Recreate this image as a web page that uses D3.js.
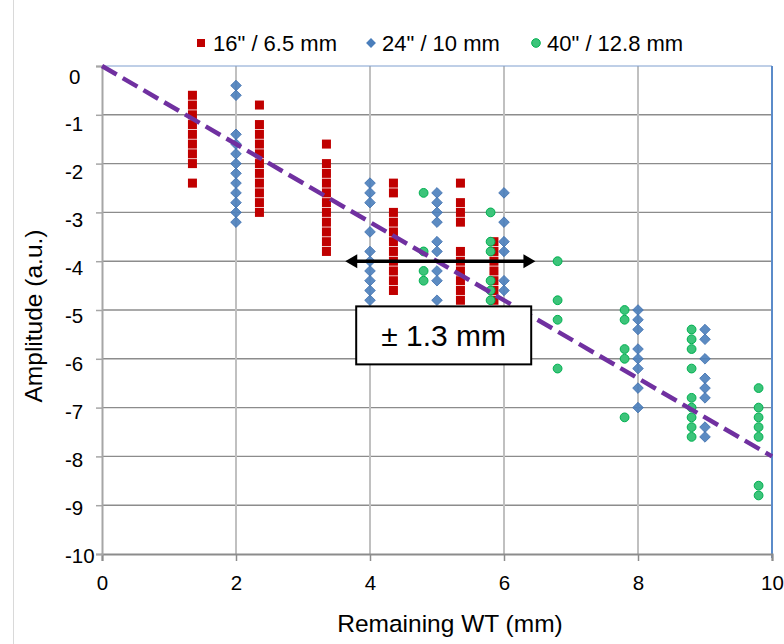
<!DOCTYPE html>
<html>
<head>
<meta charset="utf-8">
<script src="https://cdn.jsdelivr.net/npm/d3@7"></script>
<style>
  html, body { margin: 0; padding: 0; background: #fff; }
  svg { display: block; font-family: "Liberation Sans", Arial, sans-serif; }
</style>
</head>
<body>
<svg id="chart" width="784" height="644"></svg>
<script>
// Remaining wall thickness vs. amplitude, three pipe diameters
const xTicks = [0, 2, 4, 6, 8, 10];
const yTicks = [0, -1, -2, -3, -4, -5, -6, -7, -8, -9, -10];

const seriesNames = ['16" / 6.5 mm', '24" / 10 mm', '40" / 12.8 mm'];

// 16" / 6.5 mm (squares): column positions and amplitudes in each column
const redX = [1.35, 2.35, 3.35, 4.35, 5.35, 5.85];
const redY = [
  [-0.6, -0.8, -1.0, -1.2, -1.4, -1.6, -1.8, -2.0, -2.4],
  [-0.8, -1.2, -1.4, -1.6, -1.8, -2.0, -2.2, -2.4, -2.6, -2.8, -3.0],
  [-1.6, -2.0, -2.2, -2.4, -2.6, -2.8, -3.0, -3.2, -3.4, -3.6, -3.8],
  [-2.4, -2.6, -3.0, -3.2, -3.4, -3.6, -3.8, -4.0, -4.2, -4.4, -4.6],
  [-2.4, -2.8, -3.0, -3.2, -3.8, -4.0, -4.2, -4.4, -4.6, -4.8],
  [-3.6, -3.8, -4.0, -4.2, -4.4, -4.6, -4.8]
];

// 24" / 10 mm (diamonds)
const blueX = [2, 4, 5, 6, 8, 9];
const blueY = [
  [-0.4, -0.6, -1.4, -1.6, -1.8, -2.0, -2.2, -2.4, -2.6, -2.8, -3.0, -3.2],
  [-2.4, -2.6, -2.8, -3.4, -3.8, -4.0, -4.2, -4.4, -4.6, -4.8],
  [-2.6, -2.8, -3.0, -3.2, -3.6, -3.8, -4.2, -4.4, -4.8],
  [-2.6, -3.2, -3.6, -3.8, -4.4, -4.6],
  [-5.0, -5.2, -5.4, -5.8, -6.0, -6.2, -6.6, -7.0],
  [-5.4, -5.6, -6.0, -6.4, -6.6, -6.8, -7.4, -7.6]
];

// 40" / 12.8 mm (circles)
const greenX = [4.8, 5.8, 6.8, 7.8, 8.8, 9.8];
const greenY = [
  [-2.6, -3.8, -4.2, -4.4],
  [-3.0, -3.6, -3.8, -4.4, -4.6, -4.8],
  [-4.0, -4.8, -5.2, -6.2],
  [-5.0, -5.2, -5.8, -6.0, -7.2],
  [-5.4, -5.6, -5.8, -6.2, -6.8, -7.0, -7.2, -7.4, -7.6],
  [-6.6, -7.0, -7.2, -7.4, -7.6, -8.6, -8.8]
];

// Linear trend through the origin
const trendX = [0, 10];
const trendY = [0, -8.0];

// Spread annotation
const spreadCenter = 5.05;
const spreadHalf = 1.3;
const spreadLevel = -4;
const spreadLabel = "\u00B1 1.3 mm";
const labelAt = [5.1, -5.52];

const colors = { red: "#C00000", blue: "#4A7EBB", green: "#00B050", trend: "#7030A0" };

const svg = d3.select("#chart");
const M = { left: 102, right: 772, top: 66, bottom: 554 };

const x = d3.scaleLinear().domain([0, 10]).range([M.left, M.right]);
const y = d3.scaleLinear().domain([-10, 0]).range([M.bottom, M.top]);
// Tick label placement along the value axis
const yLab = d3.scaleLinear().domain([-10, 0]).range([555, 76]);
const fmt = d => String(d);

const flatten = (xs, ys) => xs.flatMap((xv, i) => ys[i].map(yv => ({ x: xv, y: yv })));

// Outer frame edge
svg.append("line").attr("x1", 13.5).attr("x2", 13.5).attr("y1", 0).attr("y2", 644)
  .attr("stroke", "#d9d9d9").attr("stroke-width", 1);

// Horizontal gridlines
svg.append("g").selectAll("line").data(yTicks.filter(v => v > -10 && v < 0)).join("line")
  .attr("x1", M.left).attr("x2", M.right)
  .attr("y1", d => y(d)).attr("y2", d => y(d))
  .attr("stroke", "#8c8c8c").attr("stroke-width", 1.4);

// Vertical gridlines
svg.append("g").selectAll("line").data(xTicks.filter(v => v > 0 && v < 10)).join("line")
  .attr("x1", d => x(d)).attr("x2", d => x(d))
  .attr("y1", M.top).attr("y2", M.bottom)
  .attr("stroke", "#c0c0c0").attr("stroke-width", 2);

// Top and right frame of the plot area
svg.append("line").attr("x1", M.left).attr("x2", M.right).attr("y1", M.top).attr("y2", M.top)
  .attr("stroke", "#7f9fcf").attr("stroke-width", 1);
svg.append("line").attr("x1", M.right).attr("x2", M.right).attr("y1", M.top).attr("y2", M.bottom + 4)
  .attr("stroke", "#5b8bc9").attr("stroke-width", 2);

// X axis
const xAxis = svg.append("g").attr("transform", `translate(0,${M.bottom})`)
  .call(d3.axisBottom(x).tickValues(xTicks).tickSize(7).tickFormat(fmt));
xAxis.select(".domain").attr("stroke", "#8c8c8c").attr("stroke-width", 2);
xAxis.selectAll(".tick line").attr("stroke", "#8c8c8c").attr("stroke-width", 1.5);
xAxis.selectAll(".tick text").attr("font-size", 20.5).attr("fill", "#000")
  .attr("font-family", "Liberation Sans, Arial, sans-serif").attr("dy", 0).attr("y", 36);

// Y axis
const yAxis = svg.append("g").attr("transform", `translate(${M.left},0)`)
  .call(d3.axisLeft(y).tickValues(yTicks).tickSize(6).tickFormat(fmt));
yAxis.select(".domain").attr("stroke", "#a6a6a6").attr("stroke-width", 2);
yAxis.selectAll(".tick line").attr("stroke", "#a6a6a6").attr("stroke-width", 1.5);
yAxis.selectAll(".tick text")
  .attr("font-size", 20.5).attr("fill", "#000")
  .attr("font-family", "Liberation Sans, Arial, sans-serif")
  .attr("text-anchor", "start").attr("x", 65 - M.left)
  .attr("dy", 0)
  .attr("y", d => yLab(d) - y(d) + 7);
yAxis.selectAll(".tick text").filter(d => d === 0).attr("x", 69 - M.left);

// Series markers
const gPts = svg.append("g");
gPts.selectAll("rect.r").data(flatten(redX, redY)).join("rect").attr("class", "r")
  .attr("x", d => x(d.x) - 4.5).attr("y", d => y(d.y) - 4.5)
  .attr("width", 9).attr("height", 9).attr("fill", colors.red);

const diamond = d3.symbol().type(d3.symbolDiamond2).size(72);
gPts.selectAll("path.b").data(flatten(blueX, blueY)).join("path").attr("class", "b")
  .attr("d", diamond)
  .attr("transform", d => `translate(${x(d.x)},${y(d.y)})`)
  .attr("fill", colors.blue).attr("fill-opacity", 0.9)
  .attr("stroke", "#3d6fae").attr("stroke-width", 0.8);

gPts.selectAll("circle.g").data(flatten(greenX, greenY)).join("circle").attr("class", "g")
  .attr("cx", d => x(d.x)).attr("cy", d => y(d.y)).attr("r", 4.4)
  .attr("fill", "#3cc47a").attr("stroke", colors.green).attr("stroke-width", 1);

// Trend line
svg.append("path")
  .datum(trendX.map((v, i) => [v, trendY[i]]))
  .attr("d", d3.line().x(d => x(d[0])).y(d => y(d[1])))
  .attr("fill", "none").attr("stroke", colors.trend)
  .attr("stroke-width", 4.5).attr("stroke-dasharray", "17,7");

// Double-headed spread arrow
const ay = y(spreadLevel);
const ax1 = x(spreadCenter - spreadHalf), ax2 = x(spreadCenter + spreadHalf);
const headLen = 12, headW = 7, over = 8;
svg.append("line").attr("x1", ax1).attr("x2", ax2).attr("y1", ay).attr("y2", ay)
  .attr("stroke", "#000").attr("stroke-width", 3.5);
svg.append("path")
  .attr("d", `M${ax1 - over},${ay} L${ax1 - over + headLen},${ay - headW} L${ax1 - over + headLen},${ay + headW} Z`)
  .attr("fill", "#000");
svg.append("path")
  .attr("d", `M${ax2 + over},${ay} L${ax2 + over - headLen},${ay - headW} L${ax2 + over - headLen},${ay + headW} Z`)
  .attr("fill", "#000");

// Label box
const bw = 175, bh = 58;
const bx = x(labelAt[0]), by = y(labelAt[1]);
svg.append("rect").attr("x", bx - bw / 2).attr("y", by - bh / 2).attr("width", bw).attr("height", bh)
  .attr("fill", "#fff").attr("stroke", "#000").attr("stroke-width", 2);
svg.append("text").attr("x", bx).attr("y", by + 11).attr("text-anchor", "middle")
  .attr("font-size", 30).attr("fill", "#000").text(spreadLabel);

// Axis titles
svg.append("text").attr("x", 450).attr("y", 632).attr("text-anchor", "middle")
  .attr("font-size", 24.5).attr("fill", "#000").text("Remaining WT (mm)");
svg.append("text").attr("transform", "translate(42,316) rotate(-90)").attr("text-anchor", "middle")
  .attr("font-size", 24.5).attr("fill", "#000").text("Amplitude (a.u.)");

// Legend
const legend = svg.append("g").attr("font-size", 22);
const legendX = [201, 371, 536];
const legendTextX = [213, 382, 547];
const ly = 43;
legend.append("rect").attr("x", legendX[0] - 4).attr("y", ly - 4).attr("width", 8).attr("height", 8)
  .attr("fill", colors.red);
legend.append("path").attr("d", d3.symbol().type(d3.symbolDiamond2).size(62))
  .attr("transform", `translate(${legendX[1]},${ly})`).attr("fill", colors.blue);
legend.append("circle").attr("cx", legendX[2]).attr("cy", ly).attr("r", 4.3)
  .attr("fill", "#3cc47a").attr("stroke", colors.green).attr("stroke-width", 1);
legend.selectAll("text").data(seriesNames).join("text")
  .attr("x", (d, i) => legendTextX[i]).attr("y", 50.5).attr("fill", "#000").text(d => d);
</script>
</body>
</html>
